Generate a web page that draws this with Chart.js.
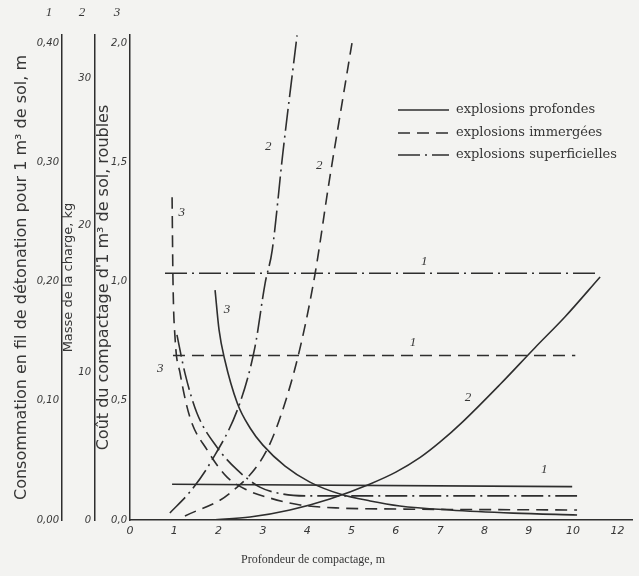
<!DOCTYPE html>
<html><head><meta charset="utf-8">
<script src="https://cdn.jsdelivr.net/npm/chart.js@4.4.0/dist/chart.umd.min.js"></script>
<style>html,body{margin:0;padding:0;background:#f3f3f1;} canvas{display:block}</style>
</head><body>
<canvas id="c" width="639" height="576"></canvas>
<script>
// ---- tick labels ----
const xTickValues = [0,1,2,3,4,5,6,7,8,9,10,11];
const xTickLabels = ['0','1','2','3','4','5','6','7','8','9','10','12'];
const y1TickValues = [0,0.1,0.2,0.3,0.4];
const y1TickLabels = ['0,00','0,10','0,20','0,30','0,40'];
const y2TickValues = [0,10,20,30];
const y2TickLabels = ['0','10','20','30'];
const y3TickValues = [0,0.5,1,1.5,2];
const y3TickLabels = ['0,0','0,5','1,0','1,5','2,0'];

// ---- axis titles ----
const xTitle = 'Profondeur de compactage, m';
const y1Title = 'Consommation en fil de détonation pour 1 m³ de sol, m';
const y2Title = 'Masse de la charge, kg';
const y3Title = 'Coût du compactage d\'1 m³ de sol, roubles';
const axisNumbers = ['1','2','3'];

// ---- legend ----
const legendLabels = ['explosions profondes','explosions immergées','explosions superficielles'];

// ---- deep explosions (solid) ----
const deep1Depth = [0.95, 9.98];
const deep1Wire  = [0.030, 0.028];
const deep2Depth = [1.87, 2.71, 3.61, 4.51, 5.42, 6.00, 6.55, 7.00, 7.52, 8.35, 9.14, 9.82, 10.61];
const deep2Mass  = [0, 0.20, 0.68, 1.43, 2.45, 3.25, 4.25, 5.30, 6.70, 9.20, 11.70, 13.80, 16.50];
const deep3Depth = [1.92, 2.01, 2.14, 2.42, 2.71, 3.00, 3.50, 4.06, 4.74, 5.42, 6.09, 7.22, 8.65, 10.09];
const deep3Cost  = [0.964, 0.797, 0.671, 0.491, 0.386, 0.314, 0.226, 0.159, 0.109, 0.080, 0.059, 0.042, 0.029, 0.021];

// ---- immersed explosions (dashed) ----
const imm1Depth = [0.97, 10.05];
const imm1Wire  = [0.138, 0.138];
const imm2Depth = [1.24, 2.26, 3.09, 3.54, 3.88, 4.18, 4.49, 4.76, 5.01];
const imm2Mass  = [0.27, 1.83, 4.75, 8.35, 12.22, 16.77, 22.88, 27.83, 32.38];
const imm3Depth = [0.95, 0.97, 1.02, 1.13, 1.35, 1.74, 2.19, 2.64, 3.16, 3.84, 4.74, 6.09, 10.09];
const imm3Cost  = [1.354, 1.006, 0.755, 0.616, 0.432, 0.294, 0.180, 0.126, 0.092, 0.063, 0.050, 0.046, 0.042];

// ---- surface explosions (dash-dot) ----
const sup1Depth = [0.79, 10.54];
const sup1Wire  = [0.207, 0.207];
const sup2Depth = [0.90, 1.35, 1.81, 2.48, 2.82, 3.05, 3.21, 3.45, 3.77];
const sup2Mass  = [0.48, 1.90, 3.87, 7.94, 11.74, 16.09, 18.33, 24.92, 32.9];
const sup3Depth = [1.06, 1.24, 1.51, 1.96, 2.42, 2.93, 3.45, 4.06, 4.97, 10.09];
const sup3Cost  = [0.776, 0.616, 0.449, 0.306, 0.210, 0.138, 0.109, 0.101, 0.101, 0.101];

// ---- curve labels (depth, cost-axis value) ----
const curveLabelText  = ['1','1','1','2','3','2','2','3','3'];
const curveLabelDepth = [6.64, 6.39, 9.35, 7.63, 2.19, 3.12, 4.27, 1.17, 0.68];
const curveLabelLevel = [1.082, 0.742, 0.210, 0.512, 0.881, 1.564, 1.488, 1.291, 0.637];

const INK = '#2e2e2e';
const TXT = '#363636';
const DASH = [12, 7];
const DASHDOT = [22, 5, 2, 5];

function pts(xs, ys){ return xs.map((x,i)=>({x:x, y:ys[i]})); }
function ds(xs, ys, axis, dash){
  return {data: pts(xs, ys), yAxisID: axis, borderColor: INK, borderWidth: 1.6,
          borderDash: dash, pointRadius: 0, fill: false, showLine: true,
          cubicInterpolationMode: 'monotone'};
}
function fixedTicks(values){ return function(scale){ scale.ticks = values.map(v=>({value:v})); }; }

const extras = {
  id: 'extras',
  afterDraw(chart){
    const ctx = chart.ctx;
    const sx = chart.scales.x, s3 = chart.scales.y3;
    ctx.save();
    ctx.fillStyle = TXT;
    ctx.textBaseline = 'middle';
    ctx.textAlign = 'center';
    ctx.font = 'italic 13px "Liberation Serif"';
    ['y1','y2','y3'].forEach((id,i)=>{
      const s = chart.scales[id];
      ctx.fillText(axisNumbers[i], s.right - 13, 13);
    });
    ctx.font = '12px "Liberation Serif"';
    ctx.fillText(xTitle, 313, 560);
    ctx.font = 'italic 13px "Liberation Serif"';
    curveLabelText.forEach((t,i)=>{
      ctx.fillText(t, sx.getPixelForValue(curveLabelDepth[i]), s3.getPixelForValue(curveLabelLevel[i]));
    });
    const dashes = [[], DASH, DASHDOT];
    const ly = [110, 133, 155];
    ctx.textAlign = 'left';
    ctx.font = '13px "DejaVu Serif"';
    ctx.strokeStyle = INK; ctx.lineWidth = 1.6;
    legendLabels.forEach((t,i)=>{
      ctx.setLineDash(dashes[i]);
      ctx.beginPath(); ctx.moveTo(398, ly[i]); ctx.lineTo(449, ly[i]); ctx.stroke();
      ctx.fillText(t, 456, ly[i]);
    });
    ctx.restore();
  }
};

const tickFont = {family: 'DejaVu Sans', size: 10, style: 'italic'};
const border = {display: true, color: INK, width: 1.5};
const noGrid = {display: false, drawTicks: false};

new Chart(document.getElementById('c'), {
  type: 'scatter',
  data: { datasets: [
    ds(deep1Depth, deep1Wire, 'y1', []),
    ds(deep2Depth, deep2Mass, 'y2', []),
    ds(deep3Depth, deep3Cost, 'y3', []),
    ds(imm1Depth, imm1Wire, 'y1', DASH),
    ds(imm2Depth, imm2Mass, 'y2', DASH),
    ds(imm3Depth, imm3Cost, 'y3', DASH),
    ds(sup1Depth, sup1Wire, 'y1', DASHDOT),
    ds(sup2Depth, sup2Mass, 'y2', DASHDOT),
    ds(sup3Depth, sup3Cost, 'y3', DASHDOT)
  ]},
  options: {
    responsive: false, animation: false,
    layout: {padding: {left: 8, top: 35, right: 7, bottom: 0}},
    plugins: {legend: {display: false}, tooltip: {enabled: false}},
    scales: {
      x: {
        type: 'linear', min: 0, max: 11.33,
        afterBuildTicks: fixedTicks(xTickValues),
        afterFit: s => { s.height = 56; },
        grid: noGrid, border: border,
        ticks: {callback: (v,i)=>xTickLabels[i], color: TXT, font: {family:'DejaVu Sans', size: 11, style:'italic'}, padding: 5, autoSkip: false, maxRotation: 0}
      },
      y3: {
        type: 'linear', position: 'left', weight: 1, min: 0, max: 2.034,
        afterBuildTicks: fixedTicks(y3TickValues),
        afterFit: s => { s.width = 35; },
        grid: noGrid, border: border,
        ticks: {callback: (v,i)=>y3TickLabels[i], color: TXT, font: tickFont, padding: 3},
        title: {display: true, text: y3Title, color: TXT, font: {family:'DejaVu Sans', size: 16}, padding: {top: -1, bottom: 0}}
      },
      y2: {
        type: 'linear', position: 'left', weight: 2, min: 0, max: 32.93,
        afterBuildTicks: fixedTicks(y2TickValues),
        afterFit: s => { s.width = 33; },
        grid: noGrid, border: border,
        ticks: {callback: (v,i)=>y2TickLabels[i], color: TXT, font: tickFont, padding: 4},
        title: {display: true, text: y2Title, color: TXT, font: {family:'DejaVu Sans', size: 13}, padding: {top: -1, bottom: 0}}
      },
      y1: {
        type: 'linear', position: 'left', weight: 3, min: 0, max: 0.4068,
        afterBuildTicks: fixedTicks(y1TickValues),
        afterFit: s => { s.width = 54; },
        grid: noGrid, border: border,
        ticks: {callback: (v,i)=>y1TickLabels[i], color: TXT, font: tickFont, padding: 3},
        title: {display: true, text: y1Title, color: TXT, font: {family:'DejaVu Sans', size: 16}, padding: {top: 4, bottom: 0}}
      }
    }
  },
  plugins: [extras]
});
</script>
</body></html>
